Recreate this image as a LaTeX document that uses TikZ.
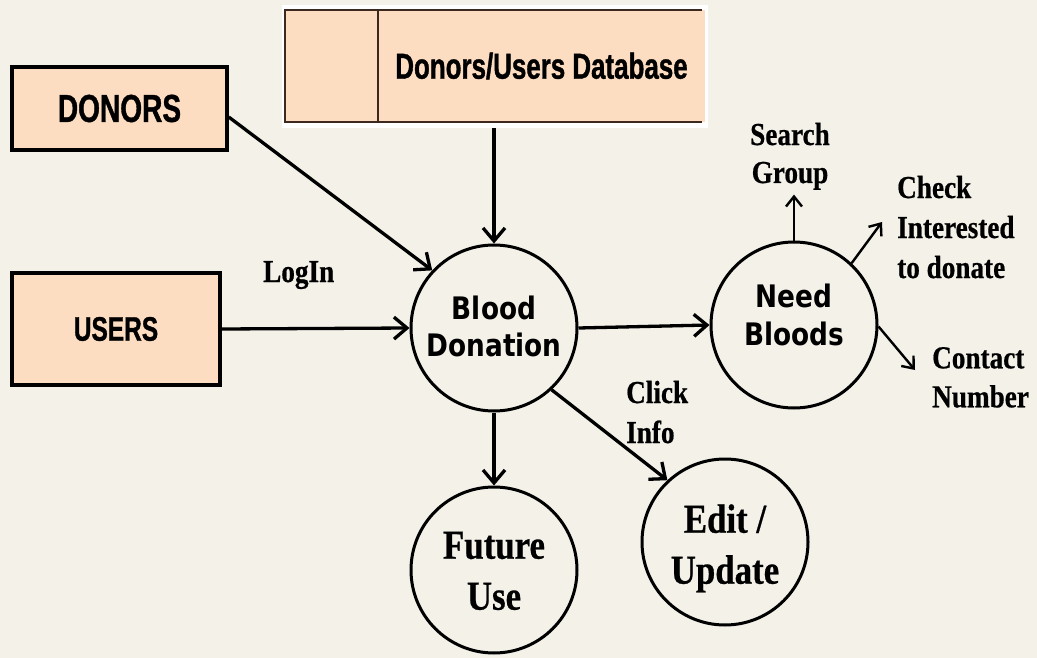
\documentclass[tikz,border=0pt]{standalone}
\usepackage{fontspec}
\usetikzlibrary{arrows.meta}
\newfontfamily\narrowsans[FakeStretch=0.72,FakeBold=1]{Liberation Sans}
\newfontfamily\dejab[FakeStretch=0.85]{DejaVu Sans}
\newfontfamily\timesb[FakeStretch=0.85,FakeBold=0.6]{Liberation Serif}
\definecolor{bgc}{RGB}{243,241,232}
\definecolor{peach}{RGB}{253,221,193}
\definecolor{dbline}{RGB}{60,40,30}
\newcommand\tl[2]{\begin{tabular}{@{}#1@{}}#2\end{tabular}}
\newcommand\shiftup[2]{\raisebox{#1}[\height][\depth]{#2}}
\tikzset{
  ebox/.style={draw, line width=3.5pt, fill=peach, inner sep=0pt,
    font={\narrowsans\bfseries}},
  proc/.style={circle, draw, line width=3pt, minimum size=166pt, inner sep=0pt},
  sanslab/.style={font={\dejab\bfseries\fontsize{31}{37}\selectfont}},
  seriflab/.style={font={\timesb\bfseries\fontsize{41}{51}\selectfont}},
  smalllab/.style={inner sep=0pt},
  flow/.style={line width=3.3pt, -{Straight Barb[length=13pt,width=22pt]}},
  thin/.style={line width=2.4pt, -{Straight Barb[length=10pt,width=16pt]}},
}
\begin{document}
\begin{tikzpicture}[x=1pt,y=-1pt]
\fill[bgc] (0,0) rectangle (1037,658);
\useasboundingbox (0,0) rectangle (1037,658);

% external entities
\node[ebox, minimum width=215pt, minimum height=83pt] (donors) at (119.5,108.5)
  {\fontsize{39}{40}\selectfont DONORS};
\node[ebox, minimum width=208pt, minimum height=112pt] (users) at (116,329)
  {\fontsize{34}{36}\selectfont USERS};

% data store
\fill[white] (282,5) rectangle (708,128);
\node[fill=peach, inner sep=0pt, minimum width=420pt, minimum height=112pt,
  font={\narrowsans\bfseries\fontsize{36}{40}\selectfont}] (db) at (495,66)
  {\hspace*{93pt}Donors/Users Database};
\draw[dbline, line width=2.2pt] ([xshift=-3pt]db.north east) -- (db.north west)
  -- (db.south west) -- ([xshift=-3pt]db.south east);
\draw[dbline, line width=2.2pt] ([xshift=93pt]db.north west) -- ([xshift=93pt]db.south west);

% processes
\node[proc, sanslab] (bd) at (494,328) {\shiftup{-3pt}{\tl{c}{Blood\\Donation}}};
\node[proc, font={\dejab\bfseries\fontsize{31}{38}\selectfont}] (nb) at (794,325)
  {\shiftup{6pt}{\tl{c}{Need\\Bloods}}};
\node[proc, seriflab] (fu) at (494,570) {\shiftup{-4pt}{\tl{c}{Future\\Use}}};
\node[proc, seriflab] (ed) at (725,542) {\shiftup{-6pt}{\tl{c}{Edit /\\Update}}};

% labels
\node[smalllab, anchor=base west, font={\timesb\bfseries\fontsize{32}{40}\selectfont}] (login) at (263,282) {LogIn};
\node[smalllab, font={\timesb\bfseries\fontsize{32}{38}\selectfont}] (sg) at (790,156.4) {\tl{c}{Search\\Group}};
\node[smalllab, anchor=west, font={\timesb\bfseries\fontsize{32}{40}\selectfont}] (ci) at (897,230) {\tl{l}{Check\\Interested\\to donate}};
\node[smalllab, anchor=west, font={\timesb\bfseries\fontsize{32}{39}\selectfont}] (cn) at (932,380) {\tl{l}{Contact\\Number}};
\node[smalllab, anchor=west, font={\timesb\bfseries\fontsize{32}{40}\selectfont}] (clk) at (626,415) {\tl{l}{Click\\Info}};

\coordinate (citip) at (882,222);
\coordinate (cntip) at (915,370);

% connectors
\draw[flow] ([yshift=-8.5pt]donors.east) -- (bd.137);
\draw[flow] (users.east) -- (bd.west);
\draw[flow] (bd.north |- 0,128) -- (bd.north);
\draw[flow] (bd.east) -- (nb.west);
\draw[flow] (bd.south) -- (fu.north);
\draw[flow] (bd.-47) -- (ed.133);
\draw[thin] (nb.north) -- (nb.north |- sg.south);
\draw[thin] (nb.47) -- (citip);
\draw[thin] (nb.-1) -- (cntip);
\end{tikzpicture}
\end{document}
